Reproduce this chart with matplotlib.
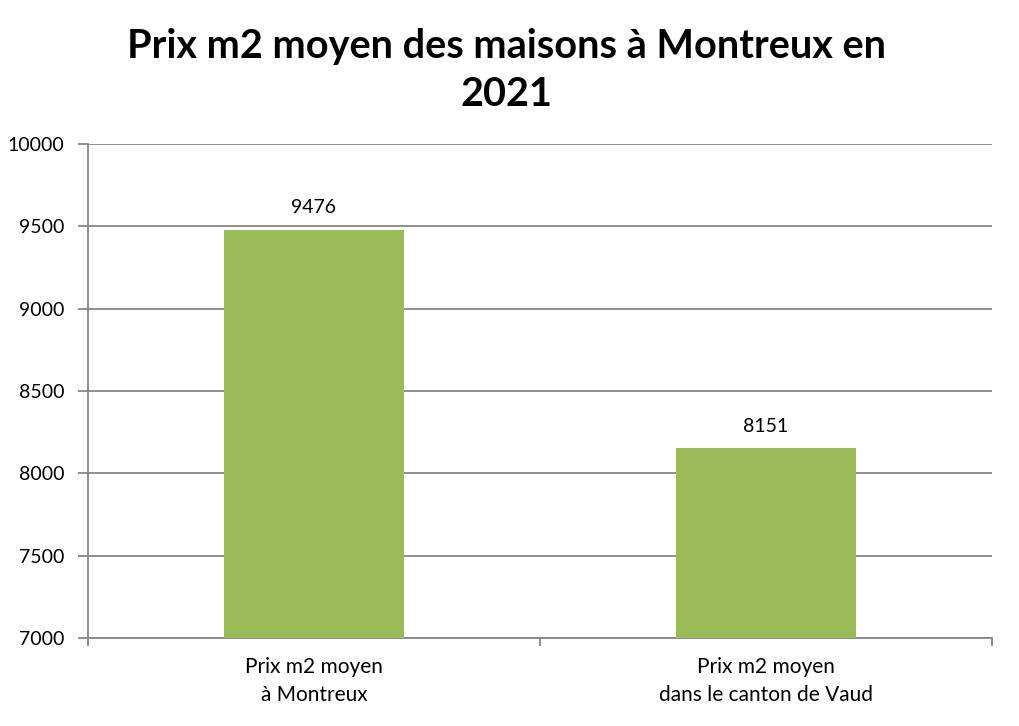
import matplotlib.pyplot as plt
import numpy as np

plt.rcParams['font.family'] = ['Lato', 'DejaVu Sans']

categories = ["Prix m2 moyen\nà Montreux", "Prix m2 moyen\ndans le canton de Vaud"]
values = [9476, 8151]
yticks = [7000, 7500, 8000, 8500, 9000, 9500, 10000]

grey = "#868686"

fig = plt.figure(figsize=(10.19, 7.26), dpi=100)
ax = fig.add_axes([88 / 1019, 88 / 726, 904 / 1019, 494 / 726])

x = np.arange(len(categories))
bars = ax.bar(x, values, width=0.4, color="#9BBB59", zorder=3)

ax.set_xlim(-0.5, len(categories) - 0.5)
ax.set_ylim(7000, 10000)
ax.set_yticks(yticks)
ax.set_yticklabels([str(t) for t in yticks], fontsize=14)
ax.yaxis.grid(True, color=grey, linewidth=1.3, zorder=0)

# category boundaries as ticks, labels in the middle
ax.set_xticks(np.arange(len(categories) + 1) - 0.5)
ax.set_xticklabels([])
ax.set_xticks(x, minor=True)
ax.set_xticklabels(categories, minor=True, fontsize=15, linespacing=1.5)
ax.tick_params(axis='x', which='minor', length=0, pad=14)
ax.tick_params(axis='x', which='major', length=6, color=grey, width=1.3)
ax.tick_params(axis='y', length=7, color=grey, width=1.3, pad=10)

for s in ["top", "right"]:
    ax.spines[s].set_visible(False)
for s in ["left", "bottom"]:
    ax.spines[s].set_color(grey)
    ax.spines[s].set_linewidth(1.3)

for b, v in zip(bars, values):
    ax.annotate(str(v), (b.get_x() + b.get_width() / 2, v), xytext=(0, 10),
                textcoords="offset points", ha="center", va="bottom", fontsize=14)

fig.text(0.497, 0.962, "Prix m2 moyen des maisons à Montreux en\n2021", ha="center", va="top",
         fontsize=28.5, fontweight="bold", linespacing=1.38)

fig.savefig("out.png", dpi=100)
